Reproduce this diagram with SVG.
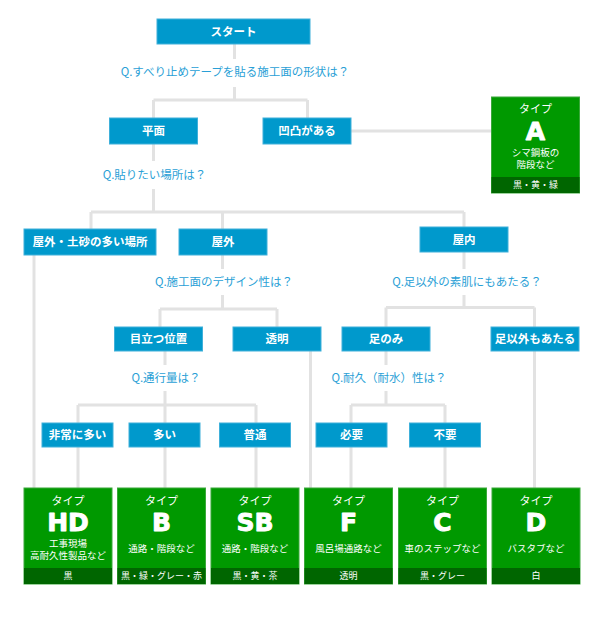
<svg xmlns="http://www.w3.org/2000/svg" width="600" height="618" viewBox="0 0 600 618">
<style>
text{font-family:"Noto Sans CJK JP","Noto Sans",sans-serif;text-anchor:middle}
.b rect{fill:#0099cc;stroke:#3fb0da;stroke-width:1}
.b text{fill:#fff;font-size:11.5px;font-weight:bold}
.q{fill:#2a9fd6;font-size:11.5px}
.g .body{fill:#009900;stroke:#3aa83a;stroke-width:1}
.g .foot{fill:#006600}
.g text{fill:#fff}
.t{font-size:11px}
.L{font-family:"DejaVu Sans",sans-serif;font-weight:bold;font-size:25px;stroke:#fff;stroke-width:0.9;stroke-linejoin:round}
.d{font-size:9.5px}
.f{font-size:9px}
#connectors path{fill:none;stroke:#e2e2e2;stroke-width:3}
</style>
<rect width="600" height="618" fill="#fff"/>
<g id="connectors">
<path d="M234.5 44V59M234.5 87V100M153.5 100H307.5M153.5 100V118M307.5 100V118"/>
<path d="M351 131H491.5"/>
<path d="M153.5 144V161M153.5 189V212M91 212H464M91 212V229M222.5 212V229M464 212V227"/>
<path d="M34 255V488"/>
<path d="M222.5 255V269M222.5 295V309M160 309H277M160 309V327M277 309V327"/>
<path d="M464 252V269M464 295V307.5M386 307.5H534.5M386 307.5V327M534.5 307.5V327"/>
<path d="M534.5 351V488M310.5 351V488"/>
<path d="M165 351V365M165 391V405M78 405H256M78 405V423M256 405V423M165 405V423"/>
<path d="M386 351V365M386 391V405M351 405H445M351 405V423M445 405V423"/>
<path d="M78 447V488M165 447V488M256 447V488M351 447V488M445 447V488"/>
</g>
<text class="q" x="235" y="76">Q.すべり止めテープを貼る施工面の形状は？</text>
<text class="q" x="154.5" y="179">Q.貼りたい場所は？</text>
<text class="q" x="224" y="286">Q.施工面のデザイン性は？</text>
<text class="q" x="467" y="286">Q.足以外の素肌にもあたる？</text>
<text class="q" x="166" y="382">Q.通行量は？</text>
<text class="q" x="389" y="382">Q.耐久（耐水）性は？</text>
<g id="start" class="b"><rect x="157" y="19" width="153" height="25"/><text x="233.5" y="35.5">スタート</text></g>
<g id="heimen" class="b"><rect x="109.5" y="118" width="88" height="26"/><text x="153.5" y="135">平面</text></g>
<g id="outotsu" class="b"><rect x="263" y="118" width="88" height="26"/><text x="307" y="135">凹凸がある</text></g>
<g id="okugai-dosha" class="b"><rect x="24" y="229" width="132" height="26"/><text x="90" y="246">屋外・土砂の多い場所</text></g>
<g id="okugai" class="b"><rect x="179" y="229" width="88" height="26"/><text x="223" y="246">屋外</text></g>
<g id="okunai" class="b"><rect x="420" y="227" width="88" height="25"/><text x="464" y="243.5">屋内</text></g>
<g id="medatsu" class="b"><rect x="114.5" y="327" width="88" height="24"/><text x="158.5" y="343">目立つ位置</text></g>
<g id="toumei" class="b"><rect x="233" y="327" width="88" height="24"/><text x="277" y="343">透明</text></g>
<g id="ashinomi" class="b"><rect x="342" y="327" width="88" height="24"/><text x="386" y="343">足のみ</text></g>
<g id="ashiigai" class="b"><rect x="491" y="327" width="88" height="24"/><text x="535" y="343">足以外もあたる</text></g>
<g id="hijou" class="b"><rect x="42" y="423" width="71" height="24"/><text x="77.5" y="439">非常に多い</text></g>
<g id="ooi" class="b"><rect x="129" y="423" width="71" height="24"/><text x="164.5" y="439">多い</text></g>
<g id="futsuu" class="b"><rect x="219.5" y="423" width="71" height="24"/><text x="255" y="439">普通</text></g>
<g id="hitsuyou" class="b"><rect x="316" y="423" width="71" height="24"/><text x="351.5" y="439">必要</text></g>
<g id="fuyou" class="b"><rect x="409.5" y="423" width="71" height="24"/><text x="445" y="439">不要</text></g>
<g id="typeA" class="g"><rect class="body" x="491.5" y="97" width="88" height="96"/><rect class="foot" x="491.5" y="177" width="88" height="16"/>
<text class="t" x="535.5" y="113">タイプ</text><text class="L" x="535.5" y="140">A</text>
<text class="d"><tspan x="535.5" y="156">シマ鋼板の</tspan><tspan x="535.5" y="168">階段など</tspan></text><text class="f" x="535.5" y="188">黒・黄・緑</text></g>
<g id="typeHD" class="g"><rect class="body" x="24" y="488" width="88" height="96"/><rect class="foot" x="24" y="568" width="88" height="16"/>
<text class="t" x="68" y="504.5">タイプ</text><text class="L" x="68" y="531">HD</text>
<text class="d"><tspan x="68" y="547">工事現場</tspan><tspan x="68" y="558.5">高耐久性製品など</tspan></text><text class="f" x="68" y="579">黒</text></g>
<g id="typeB" class="g"><rect class="body" x="117.5" y="488" width="88" height="96"/><rect class="foot" x="117.5" y="568" width="88" height="16"/>
<text class="t" x="161.5" y="504.5">タイプ</text><text class="L" x="161.5" y="531">B</text>
<text class="d" x="161.5" y="551.5">通路・階段など</text><text class="f" x="161.5" y="579">黒・緑・グレー・赤</text></g>
<g id="typeSB" class="g"><rect class="body" x="211" y="488" width="88" height="96"/><rect class="foot" x="211" y="568" width="88" height="16"/>
<text class="t" x="255" y="504.5">タイプ</text><text class="L" x="255" y="531">SB</text>
<text class="d" x="255" y="551.5">通路・階段など</text><text class="f" x="255" y="579">黒・黄・茶</text></g>
<g id="typeF" class="g"><rect class="body" x="304.5" y="488" width="88" height="96"/><rect class="foot" x="304.5" y="568" width="88" height="16"/>
<text class="t" x="348.5" y="504.5">タイプ</text><text class="L" x="348.5" y="531">F</text>
<text class="d" x="348.5" y="551.5">風呂場通路など</text><text class="f" x="348.5" y="579">透明</text></g>
<g id="typeC" class="g"><rect class="body" x="398.5" y="488" width="88" height="96"/><rect class="foot" x="398.5" y="568" width="88" height="16"/>
<text class="t" x="442.5" y="504.5">タイプ</text><text class="L" x="442.5" y="531">C</text>
<text class="d" x="442.5" y="551.5">車のステップなど</text><text class="f" x="442.5" y="579">黒・グレー</text></g>
<g id="typeD" class="g"><rect class="body" x="492" y="488" width="88" height="96"/><rect class="foot" x="492" y="568" width="88" height="16"/>
<text class="t" x="536" y="504.5">タイプ</text><text class="L" x="536" y="531">D</text>
<text class="d" x="536" y="551.5">バスタブなど</text><text class="f" x="536" y="579">白</text></g>
</svg>
